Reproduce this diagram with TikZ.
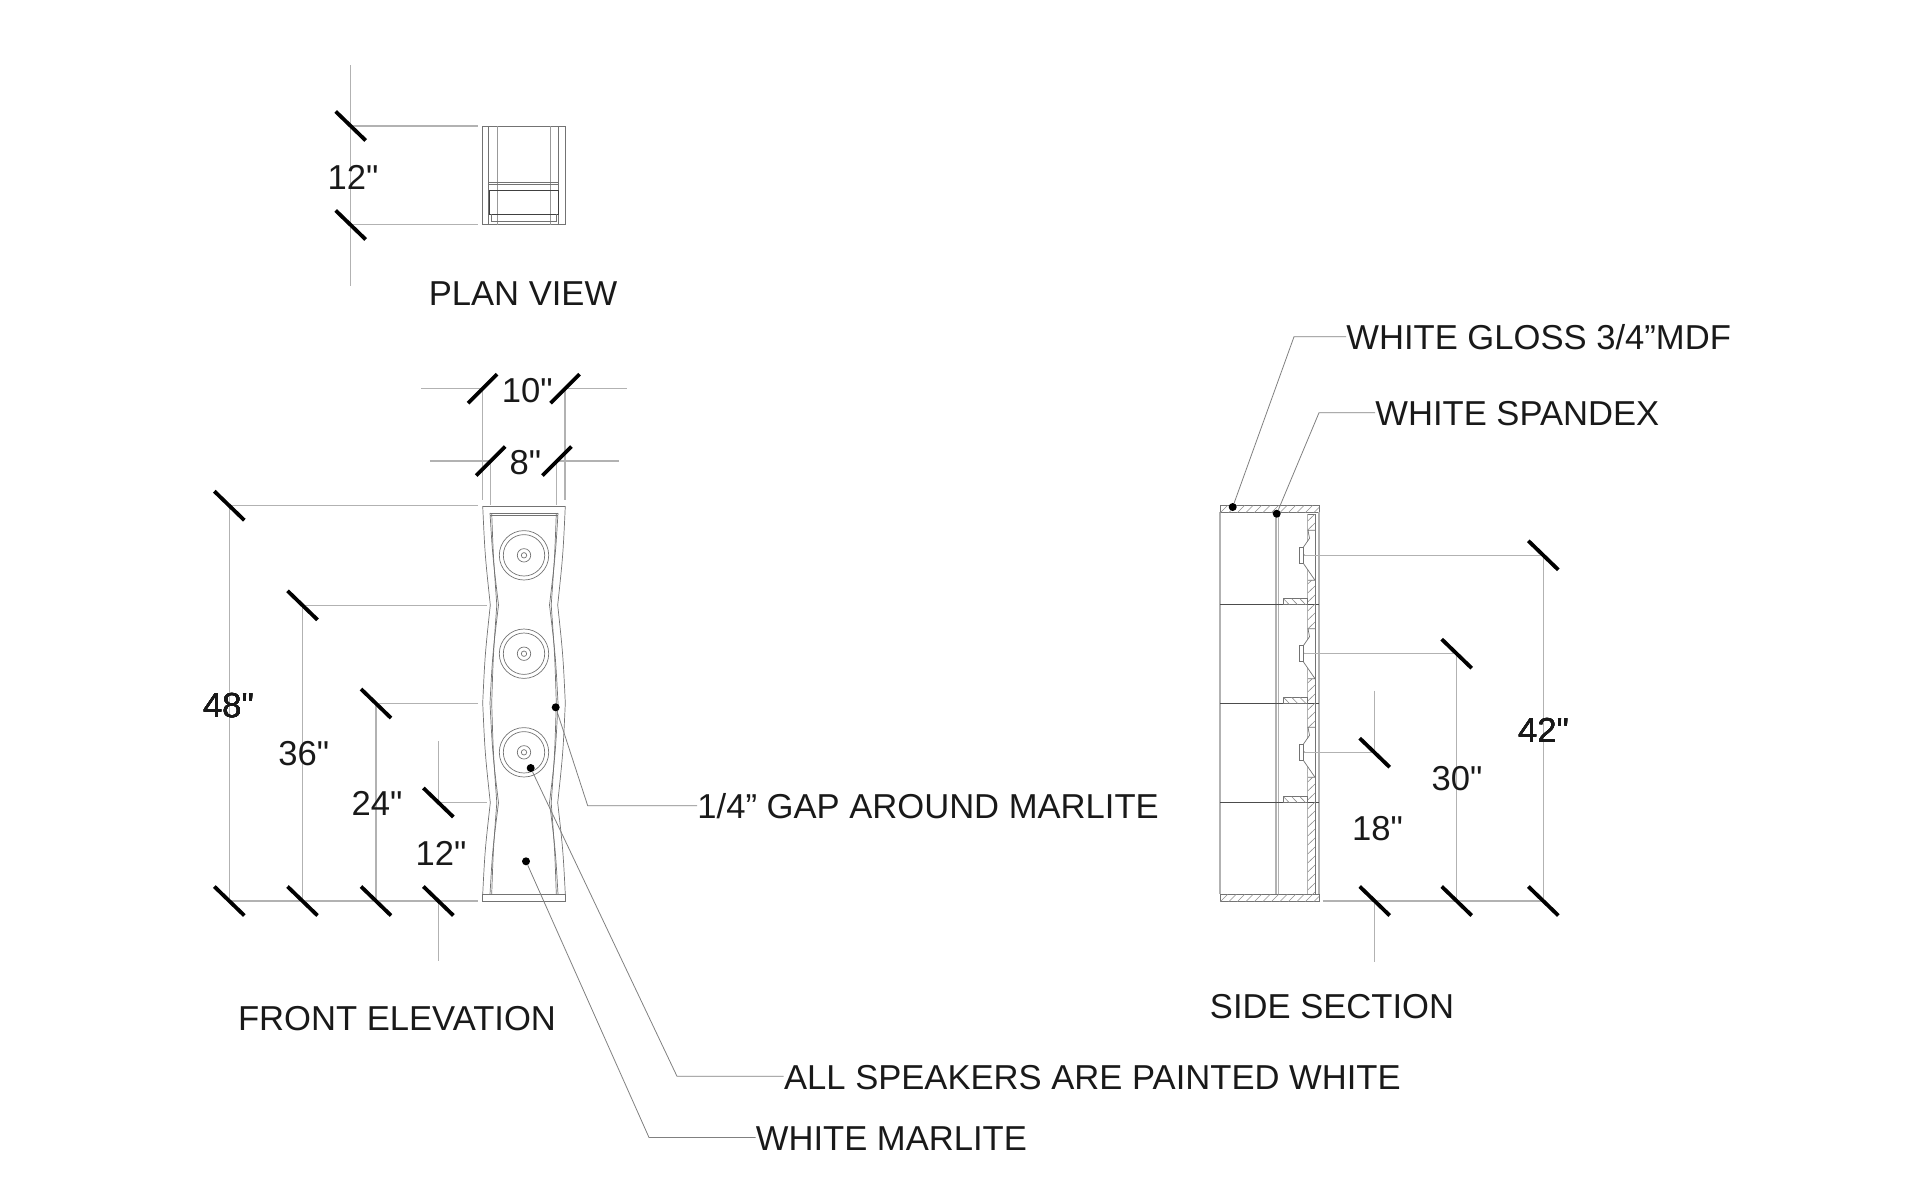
\documentclass[tikz,border=0pt]{standalone}
\usepackage{fontspec}
\setmainfont{Liberation Sans}[Ligatures=TeXOff]

\tikzset{
    thinline/.style={draw=black!55, line width=0.35pt},
    dimline/.style={draw=black!30, line width=0.6pt},
    tickmark/.style={draw=black, line width=1.9pt},
    hatchline/.style={draw=black!45, line width=0.3pt},
    leader/.style={draw=black!50, line width=0.4pt},
    dotmark/.style={circle, fill=black, inner sep=0pt, minimum size=4pt},
    label/.style={inner sep=0pt, text=black!90, font=\fontsize{17.3}{20}\selectfont},
    note/.style={label, anchor=west}
}
% ticks of the dimension lines
\newcommand{\backtick}[2]{\draw[tickmark] (#1-15,#2-14.5) -- (#1+15,#2+14.5);}
\newcommand{\foretick}[2]{\draw[tickmark] (#1-14.5,#2+14.5) -- (#1+14.5,#2-14.5);}
% one side of the wavy front: side, half width wide, half width narrow, top, bottom
\newcommand{\wavyside}[5]{%
    \draw[thinline] ({524+#1*#2},#4)
        .. controls ({524+#1*(0.7*#2+0.3*#3)},555) .. ({524+#1*#3},605)
        .. controls ({524+#1*(0.7*#2+0.3*#3)},655) .. ({524+#1*#2},703)
        .. controls ({524+#1*(0.7*#2+0.3*#3)},753) .. ({524+#1*#3},802.7)
        .. controls ({524+#1*(0.7*#2+0.3*#3)},850) .. ({524+#1*#2},#5);}

\begin{document}
\begin{tikzpicture}[x=0.5pt, y=-0.5pt]
    \useasboundingbox (0,0) rectangle (1920,1179);

    % Plan view
    \draw[thinline] (482.7,126) rectangle (565.3,224.7);
    \foreach \x in {488.7,558.7}
        \draw[thinline] (\x,126) -- (\x,224.7);
    \foreach \x in {497.3,550}
        \draw[thinline, draw=black!40] (\x,126) -- (\x,224.7);
    \draw[thinline] (488.7,182) -- (558.7,182);
    \draw[thinline] (488.7,184.7) -- (558.7,184.7);
    \draw[thinline, draw=black!75] (489.3,190) rectangle (558.7,214);
    \draw[thinline] (491.5,214) -- (491.5,221.7) -- (556.7,221.7) -- (556.7,214);
    \draw[dimline] (350.7,65) -- (350.7,286);
    \draw[dimline] (350.7,126) -- (477.7,126);
    \draw[dimline] (350.7,224.7) -- (477.7,224.7);
    \backtick{350.7}{126}
    \backtick{350.7}{225}
    \node[label] (plansize) at (353,177) {12"};
    \node[label] (plantitle) at (523,294) {PLAN VIEW};

    % Width above the front
    \draw[dimline] (421,388.7) -- (482.3,388.7) -- (482.3,500);
    \draw[dimline] (626.7,388.7) -- (565,388.7) -- (565,500);
    \draw[dimline] (430,461) -- (490.7,461) -- (490.7,505);
    \draw[dimline] (619,461) -- (556.7,461) -- (556.7,505);
    \foretick{482.5}{388.7}
    \foretick{565}{388.7}
    \foretick{490.7}{461}
    \foretick{557}{461}
    \node[label] (frontwide) at (527.3,390.4) {10"};
    \node[label] (frontnarrow) at (525.3,462.6) {8"};

    % Front elevation
    \draw[thinline] (482.7,506) -- (565.3,506);
    \draw[thinline] (490,513) -- (558,513);
    \draw[thinline] (490,515) -- (558,515);
    \foreach \s in {1,-1} {
        \wavyside{\s}{41.3}{33.7}{506}{894.3}
        \wavyside{\s}{34}{25.5}{513}{894.3}
        \wavyside{\s}{32.3}{27.2}{513}{894.3}
    }
    \draw[thinline] (482.7,894.3) rectangle (565.3,901);
    \foreach \y in {555.3,653.7,752.3}
        \foreach \r in {24.7,20.7,6.7,2.7}
            \draw[thinline] (524,\y) circle[radius=\r];

    % Heights of the front
    \draw[dimline] (478,505.7) -- (229.3,505.7) -- (229.3,901);
    \draw[dimline] (486.7,605.3) -- (302.5,605.3) -- (302.5,901);
    \draw[dimline] (478,703.5) -- (376,703.5) -- (376,901);
    \draw[dimline] (486.7,802.5) -- (438.4,802.5) -- (438.4,741);
    \draw[dimline] (229.3,901) -- (478,901);
    \draw[dimline] (438.4,901) -- (438.4,961);
    \foreach \x/\y in {229.3/505.7,302.5/605.3,376/703.5,438.4/802.5,229.3/901,302.5/901,376/901,438.4/901}
        \backtick{\x}{\y}
    \node[label] (front48) at (228.6,705.4) {48"};
    \node[label] (front36) at (303.7,754) {36"};
    \node[label] (front24) at (377,803) {24"};
    \node[label] (front12) at (441,853) {12"};
    \node[label] (fronttitle) at (397,1018.8) {FRONT ELEVATION};

    % Side section
    \draw[thinline] (1220,505.7) rectangle (1319,901);
    \draw[thinline] (1220,512) -- (1319,512);
    \draw[thinline] (1220,894.3) -- (1319,894.3);
    \draw[dimline] (1220,512) -- (1220,894.3);
    \draw[dimline] (1319,512) -- (1319,894.3);
    \draw[dimline] (1276,512) -- (1276,894.3);
    \draw[dimline] (1278.7,512) -- (1278.7,894.3);
    \foreach \y in {604.7,703.3,802.7}
        \draw[thinline, draw=black!70] (1220,\y) -- (1319,\y);
    \begin{scope}
        \clip (1220,505.7) rectangle (1319,512);
        \foreach \k in {1220,1228.5,...,1325}
            \draw[hatchline] (\k,513) -- (\k+8,505);
    \end{scope}
    \begin{scope}
        \clip (1220,894.3) rectangle (1319,901);
        \foreach \k in {1220,1228.5,...,1325}
            \draw[hatchline] (\k,902) -- (\k+8,894);
    \end{scope}
    \draw[dimline] (1307.7,514) -- (1307.7,894.3);
    \draw[thinline] (1315,514) -- (1315,894.3);
    \draw[thinline] (1307.7,514) -- (1315,514);
    \begin{scope}
        \clip (1307.7,514) rectangle (1315,894.3);
        \foreach \k in {514,523,...,900}
            \draw[hatchline] (1307.7,\k+7) -- (1315,\k);
    \end{scope}
    % Shelves
    \foreach \y in {604.7,703.3,802.7} {
        \draw[thinline] (1283.3,\y-6.2) rectangle (1307.7,\y);
        \begin{scope}
            \clip (1283.3,\y-6.2) rectangle (1307.7,\y);
            \foreach \k in {1283.3,1291.5,...,1308}
                \draw[hatchline] (\k,\y-6.2) -- (\k+6,\y);
        \end{scope}
    }
    % Speakers in section
    \foreach \y in {555.3,653.7,752.3} {
        \fill[white] (1307.7,\y-25) rectangle (1314.6,\y+25);
        \draw[thinline, fill=white] (1315,\y-25) -- (1308,\y-25) -- (1309.5,\y-17) -- (1303.3,\y-8)
            -- (1303.3,\y+8) -- (1309.5,\y+17) -- (1315,\y+25) -- (1308,\y+25);
        \draw[thinline, fill=white] (1299,\y-8) rectangle (1303.3,\y+8);
        \draw[thinline] (1304.5,\y) -- (1303.3,\y-1.5);
    }

    % Heights of the section
    \draw[dimline] (1304,555.3) -- (1543.3,555.3) -- (1543.3,901);
    \draw[dimline] (1304,653.7) -- (1456.7,653.7) -- (1456.7,901);
    \draw[dimline] (1304,752.7) -- (1374.7,752.7);
    \draw[dimline] (1374.7,690.7) -- (1374.7,752.7);
    \draw[dimline] (1322.7,901) -- (1543.3,901);
    \draw[dimline] (1374.7,901) -- (1374.7,961.7);
    \foreach \x/\y in {1543.3/555.3,1456.7/653.7,1374.7/752.7,1374.7/901,1456.7/901,1543.3/901}
        \backtick{\x}{\y}
    \node[label] (side42) at (1543.6,730) {42"};
    \node[label] (side30) at (1457,778.6) {30"};
    \node[label] (side18) at (1377.5,828.8) {18"};
    \node[label] (sidetitle) at (1332,1006.5) {SIDE SECTION};

    % Notes
    \node[dotmark] (gapdot) at (555.7,707.3) {};
    \node[dotmark] (speakerdot) at (530.7,768) {};
    \node[dotmark] (marlitedot) at (526,861.3) {};
    \node[dotmark] (glossdot) at (1232.7,507) {};
    \node[dotmark] (spandexdot) at (1276.7,513.7) {};

    \node[note] (gapnote) at (697,806.5) {1/4” GAP AROUND MARLITE};
    \node[note] (speakernote) at (783.7,1077.3) {ALL SPEAKERS ARE PAINTED WHITE};
    \node[note] (marlitenote) at (755.5,1138.5) {WHITE MARLITE};
    \node[note] (glossnote) at (1346,337.2) {WHITE GLOSS 3/4”MDF};
    \node[note] (spandexnote) at (1375,413.7) {WHITE SPANDEX};

    \coordinate (gapbend) at (587.7,805.7);
    \coordinate (speakerbend) at (677,1076.3);
    \coordinate (marlitebend) at (649,1137.5);
    \coordinate (glossbend) at (1294,336.7);
    \coordinate (spandexbend) at (1319,412.7);

    \draw[leader] (gapdot) -- (gapbend) -- (gapnote.west |- gapbend);
    \draw[leader] (speakerdot) -- (speakerbend) -- (speakernote.west |- speakerbend);
    \draw[leader] (marlitedot) -- (marlitebend) -- (marlitenote.west |- marlitebend);
    \draw[leader] (glossdot) -- (glossbend) -- (glossnote.west |- glossbend);
    \draw[leader] (spandexdot) -- (spandexbend) -- (spandexnote.west |- spandexbend);
\end{tikzpicture}
\end{document}
